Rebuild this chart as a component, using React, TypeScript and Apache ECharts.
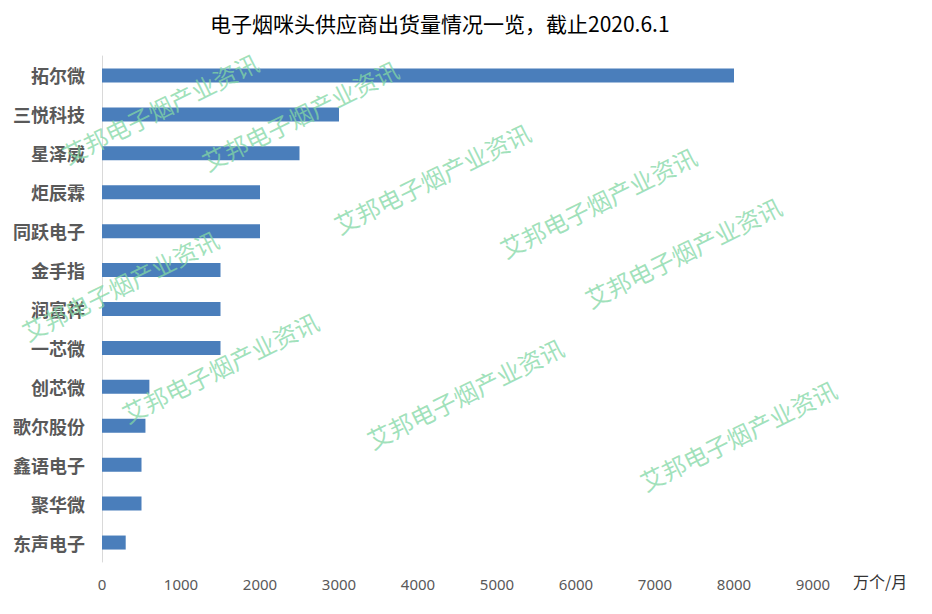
import React, { useEffect, useRef } from "react";
import * as echarts from "echarts";

const categories = ["拓尔微", "三悦科技", "星泽威", "炬辰霖", "同跃电子", "金手指", "润富祥", "一芯微", "创芯微", "歌尔股份", "鑫语电子", "聚华微", "东声电子"];
const values = [8000, 3000, 2500, 2000, 2000, 1500, 1500, 1500, 600, 550, 500, 500, 300];
const titleText = "电子烟咪头供应商出货量情况一览，截止2020.6.1";
const unitText = "万个/月";
const watermarkText = "艾邦电子烟产业资讯";
const watermarkCenters: [number, number][] = [
  [160, 108], [300, 115], [432, 178], [598, 202], [683, 252],
  [120, 285], [220, 367], [465, 393], [738, 435],
];

export default function App() {
  const ref = useRef<HTMLDivElement>(null);
  useEffect(() => {
    document.body.style.margin = "0";
    if (!ref.current) return;
    const chart = echarts.init(ref.current, null, { renderer: "svg" });
    const cats = categories.slice().reverse();
    const vals = values.slice().reverse();
    chart.setOption({
      animation: false,
      backgroundColor: "#ffffff",
      title: {
        text: titleText,
        left: 205,
        top: 7,
        textStyle: { fontFamily: "Noto Sans CJK SC", fontWeight: "normal", fontSize: 21, color: "#000000" },
      },
      grid: { left: 102, right: 119, top: 56, bottom: 52, containLabel: false },
      xAxis: {
        type: "value",
        min: 0,
        max: 9000,
        interval: 1000,
        axisLine: { show: false },
        axisTick: { show: false },
        splitLine: { show: false },
        axisLabel: {
          color: "#595959",
          fontSize: 15,
          margin: 14,
          fontFamily: "Noto Sans",
          formatter: (v: number) => String(v),
        },
      },
      yAxis: {
        type: "category",
        data: cats,
        axisLine: { show: true, lineStyle: { color: "#d9d9d9", width: 1 } },
        axisTick: { show: false },
        axisLabel: { color: "#595959", fontSize: 18, fontWeight: "bold", margin: 17, fontFamily: "Noto Sans CJK SC" },
      },
      series: [
        {
          type: "bar",
          data: vals,
          barWidth: "36%",
          itemStyle: { color: "#4a7ebb" },
          z: 2,
        },
      ],
      graphic: [
        {
          type: "text",
          left: 853,
          top: 573,
          style: { text: unitText, fill: "#333333", font: '16px "Noto Sans CJK SC"' },
        },
        ...watermarkCenters.map(([x, y]) => ({
          type: "text",
          x,
          y,
          rotation: 0.46,
          z: 10,
          silent: true,
          style: {
            text: watermarkText,
            font: '24px "Noto Sans CJK SC"',
            fill: "rgba(130, 215, 165, 0.75)",
            align: "center",
            verticalAlign: "middle",
          },
        })),
      ],
    });
    return () => chart.dispose();
  }, []);
  return <div ref={ref} style={{ width: 932, height: 614 }} />;
}
